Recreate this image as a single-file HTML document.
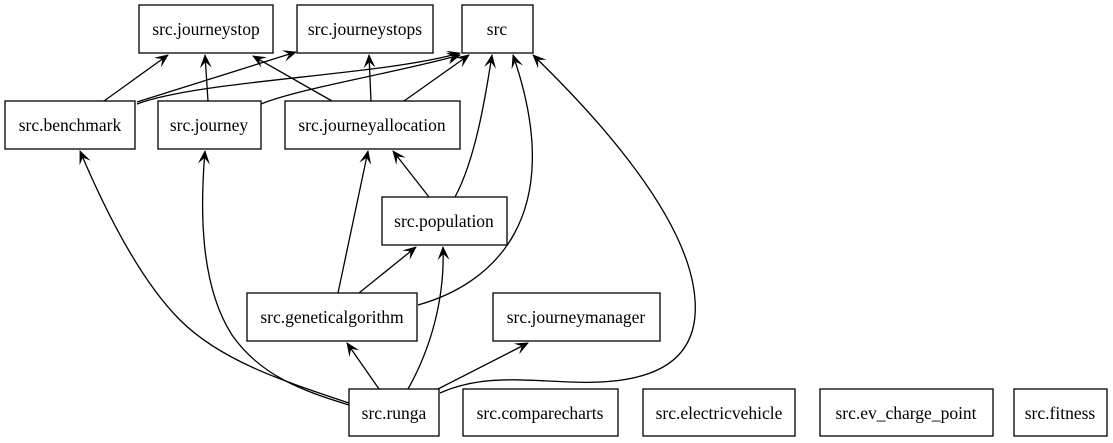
<!DOCTYPE html>
<html><head><style>
html,body{margin:0;padding:0;background:#fff;}
svg{display:block;}
text{font-family:"Liberation Serif","Times New Roman","DejaVu Serif",serif;font-size:17.5px;fill:#000;text-anchor:middle;}
rect{fill:#fff;stroke:#000;stroke-width:1.3;}
path.e{fill:none;stroke:#000;stroke-width:1.3;}
</style></head><body>
<svg width="1113" height="443" viewBox="0 0 1113 443">
<defs>
<marker id="a" markerWidth="14" markerHeight="12" refX="13" refY="6" orient="auto" markerUnits="userSpaceOnUse">
<path d="M0,0 L14,6 L0,12 L6,6 z" fill="#000"/>
</marker>
</defs>
<g marker-end="url(#a)">
<path class="e" d="M104,101 L168,55"/>
<path class="e" d="M137,102 L296,52"/>
<path class="e" d="M137,104 C200,80 380,76 460,53"/>
<path class="e" d="M208,101 L205,55"/>
<path class="e" d="M261,104 C300,88 400,72 460,55"/>
<path class="e" d="M332,101 L253,56"/>
<path class="e" d="M371,101 L369,55"/>
<path class="e" d="M404,101 L469,55"/>
<path class="e" d="M429,197 L393,151"/>
<path class="e" d="M455,197 C475,160 485,100 492,55"/>
<path class="e" d="M338,293 L368,151"/>
<path class="e" d="M359,293 L416,247"/>
<path class="e" d="M418,305 C490,285 570,220 513,55"/>
<path class="e" d="M379,389 L347,343"/>
<path class="e" d="M408,389 C430,350 445,300 443,247"/>
<path class="e" d="M438,389 L528,343"/>
<path class="e" d="M440,393 C480,375 520,380 570,382 C640,385 700,370 695,300 C690,220 600,120 533,55"/>
<path class="e" d="M349,403 C280,380 220,360 180,320 C140,280 105,210 80,151"/>
<path class="e" d="M349,405 C300,390 260,375 232,335 C200,285 200,210 205,151"/>
</g>
<rect x="139" y="5" width="134" height="48"/><text x="206" y="35">src.journeystop</text>
<rect x="297" y="5" width="136" height="48"/><text x="365" y="35">src.journeystops</text>
<rect x="462" y="5" width="71" height="48"/><text x="497" y="35">src</text>
<rect x="5" y="101" width="130" height="48"/><text x="70" y="131">src.benchmark</text>
<rect x="158" y="101" width="103" height="48"/><text x="209" y="131">src.journey</text>
<rect x="285" y="101" width="175" height="48"/><text x="372" y="131">src.journeyallocation</text>
<rect x="382" y="197" width="125" height="48"/><text x="444" y="227">src.population</text>
<rect x="247" y="293" width="170" height="48"/><text x="332" y="323">src.geneticalgorithm</text>
<rect x="493" y="293" width="167" height="48"/><text x="576" y="323">src.journeymanager</text>
<rect x="349" y="389" width="90" height="47"/><text x="394" y="419">src.runga</text>
<rect x="463" y="389" width="155" height="47"/><text x="540" y="419">src.comparecharts</text>
<rect x="643" y="389" width="152" height="47"/><text x="719" y="419">src.electricvehicle</text>
<rect x="820" y="389" width="173" height="47"/><text x="906" y="419">src.ev_charge_point</text>
<rect x="1014" y="389" width="93" height="47"/><text x="1060" y="419">src.fitness</text>
</svg>
</body></html>
